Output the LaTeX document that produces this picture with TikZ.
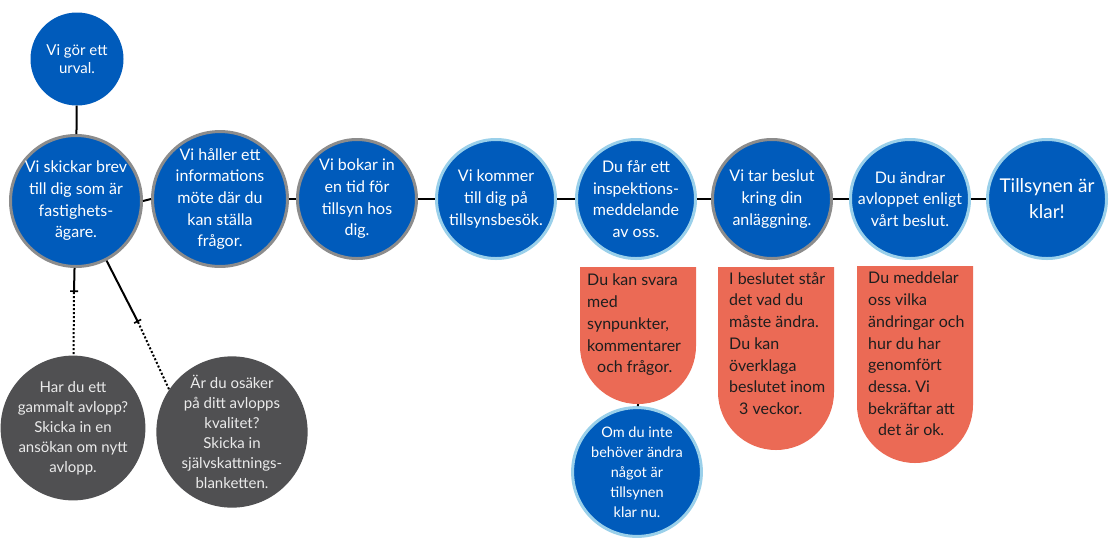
\documentclass[tikz,border=0pt]{standalone}
\usepackage{fontspec}
\setmainfont{Lato}
\usetikzlibrary{arrows.meta}
\frenchspacing
\definecolor{myblue}{HTML}{005BBB}
\definecolor{myred}{HTML}{EB6A55}
\definecolor{rimgray}{HTML}{8C8C8C}
\definecolor{rimblue}{HTML}{9AD0EA}
\definecolor{darkgray}{HTML}{505052}
\definecolor{redtext}{HTML}{1E1E1E}
\definecolor{lighttext}{HTML}{EBEBEB}
\newcommand{\fmain}{\fontsize{16}{21.7}\selectfont}
\newcommand{\fbig}{\fontsize{19}{26}\selectfont}
\newcommand{\fgray}{\fontsize{15}{20}\selectfont}
\newcommand{\fsmall}{\fontsize{14.5}{20}\selectfont}
\newcommand{\ftop}{\fontsize{15}{18}\selectfont}
\begin{document}
\begin{tikzpicture}[x=1pt,y=-1pt,
  bluecirc/.style={circle, fill=myblue, text=white, inner sep=0pt, align=center, font=\fmain},
  grayrim/.style={draw=rimgray, line width=3pt},
  bluerim/.style={draw=rimblue, line width=3pt},
  graycirc/.style={circle, fill=darkgray, text=lighttext, inner sep=0pt, align=center, font=\fgray, minimum size=142pt},
  redtxt/.style={anchor=north west, inner sep=0pt, align=left, text=redtext, font=\fmain},
  conn/.style={draw=black, line width=2pt},
  dots/.style={draw=black, line width=2pt, dotted}
]
\useasboundingbox (0,0) rectangle (1111,550);
\fill[white] (0,0) rectangle (1111,550);

% red boxes
\fill[myred] (580,267) -- (696,267) -- (696,346) arc[start angle=0, end angle=-180, radius=58pt] -- cycle;
\fill[myred] (718,267) -- (834,267) -- (834,392) arc[start angle=0, end angle=-180, radius=58pt] -- cycle;
\fill[myred] (857,266) -- (973,266) -- (973,405) arc[start angle=0, end angle=-180, radius=58pt] -- cycle;

% circles
\node[bluecirc, minimum size=93pt, font=\ftop] (urval) at (77,59) {Vi gör ett\\urval.};
\node[bluecirc, grayrim, minimum size=131pt] (c1) at (76,201) {Vi skickar brev\\till dig som är\\fastighets-\\ägare.};
\node[bluecirc, grayrim, minimum size=119pt] (c2) at (220,199) {Vi håller ett\\informations\\möte där du\\kan ställa\\frågor.};
\node[bluecirc, grayrim, minimum size=119pt] (c3) at (357,199) {Vi bokar in\\en tid för\\tillsyn hos\\dig.};
\node[bluecirc, bluerim, minimum size=119pt] (c4) at (496,199) {Vi kommer\\till dig på\\tillsynsbesök.};
\node[bluecirc, bluerim, minimum size=119pt] (c5) at (636,199) {Du får ett\\inspektions-\\meddelande\\av oss.};
\node[bluecirc, grayrim, minimum size=119pt] (c6) at (772,199) {Vi tar beslut\\kring din\\anläggning.};
\node[bluecirc, bluerim, minimum size=119pt] (c7) at (910,199) {Du ändrar\\avloppet enligt\\vårt beslut.};
\node[bluecirc, bluerim, minimum size=119pt, font=\fbig] (c8) at (1047,199) {Tillsynen är\\klar!};
\node[bluecirc, bluerim, minimum size=119pt, font=\fsmall] (b) at (637,472) {Om du inte\\behöver ändra\\något är\\tillsynen\\klar nu.};

\node[graycirc] (g1) at (73,428) {Har du ett\\gammalt avlopp?\\Skicka in en\\ansökan om nytt\\avlopp.};
\node[graycirc] (g2) at (232,432) {Är du osäker\\på ditt avlopps\\kvalitet?\\Skicka in\\självskattnings-\\blanketten.};

% red box texts
\node[redtxt] (r1) at (587,274) {Du kan svara\\med\\synpunkter,\\kommentarer\\\hspace*{10pt}och frågor.};
\node[redtxt] (r2) at (729,272) {I beslutet står\\det vad du\\måste ändra.\\Du kan\\överklaga\\beslutet inom\\\hspace*{10pt}3 veckor.};
\node[redtxt] (r3) at (868,272) {Du meddelar\\oss vilka\\ändringar och\\hur du har\\genomfört\\dessa. Vi\\bekräftar att\\\hspace*{10pt}det är ok.};

% connectors
\draw[conn] (urval) -- (c1);
\draw[conn] (c1.east) -- (c2.west);
\draw[conn] (c2.east) -- (c3.west);
\draw[conn] (c3.east) -- (c4.west);
\draw[conn] (c4.east) -- (c5.west);
\draw[conn] (c5.east) -- (c6.west);
\draw[conn] (c6.east) -- (c7.west);
\draw[conn] (c7.east) -- (c8.west);

\coordinate (r1bot) at (638,404);
\draw[conn] (r1bot) -- (b);

\coordinate (barA) at (74,292);
\coordinate (barB) at (138,322);
\draw[conn, -{Bar[width=8pt,line width=1.6pt]}] (c1) -- (barA);
\draw[dots] (barA) -- (g1);
\draw[conn, -{Bar[width=8pt,line width=1.6pt]}] (c1) -- (barB);
\draw[dots] (barB) -- (g2.146);
\end{tikzpicture}
\end{document}
